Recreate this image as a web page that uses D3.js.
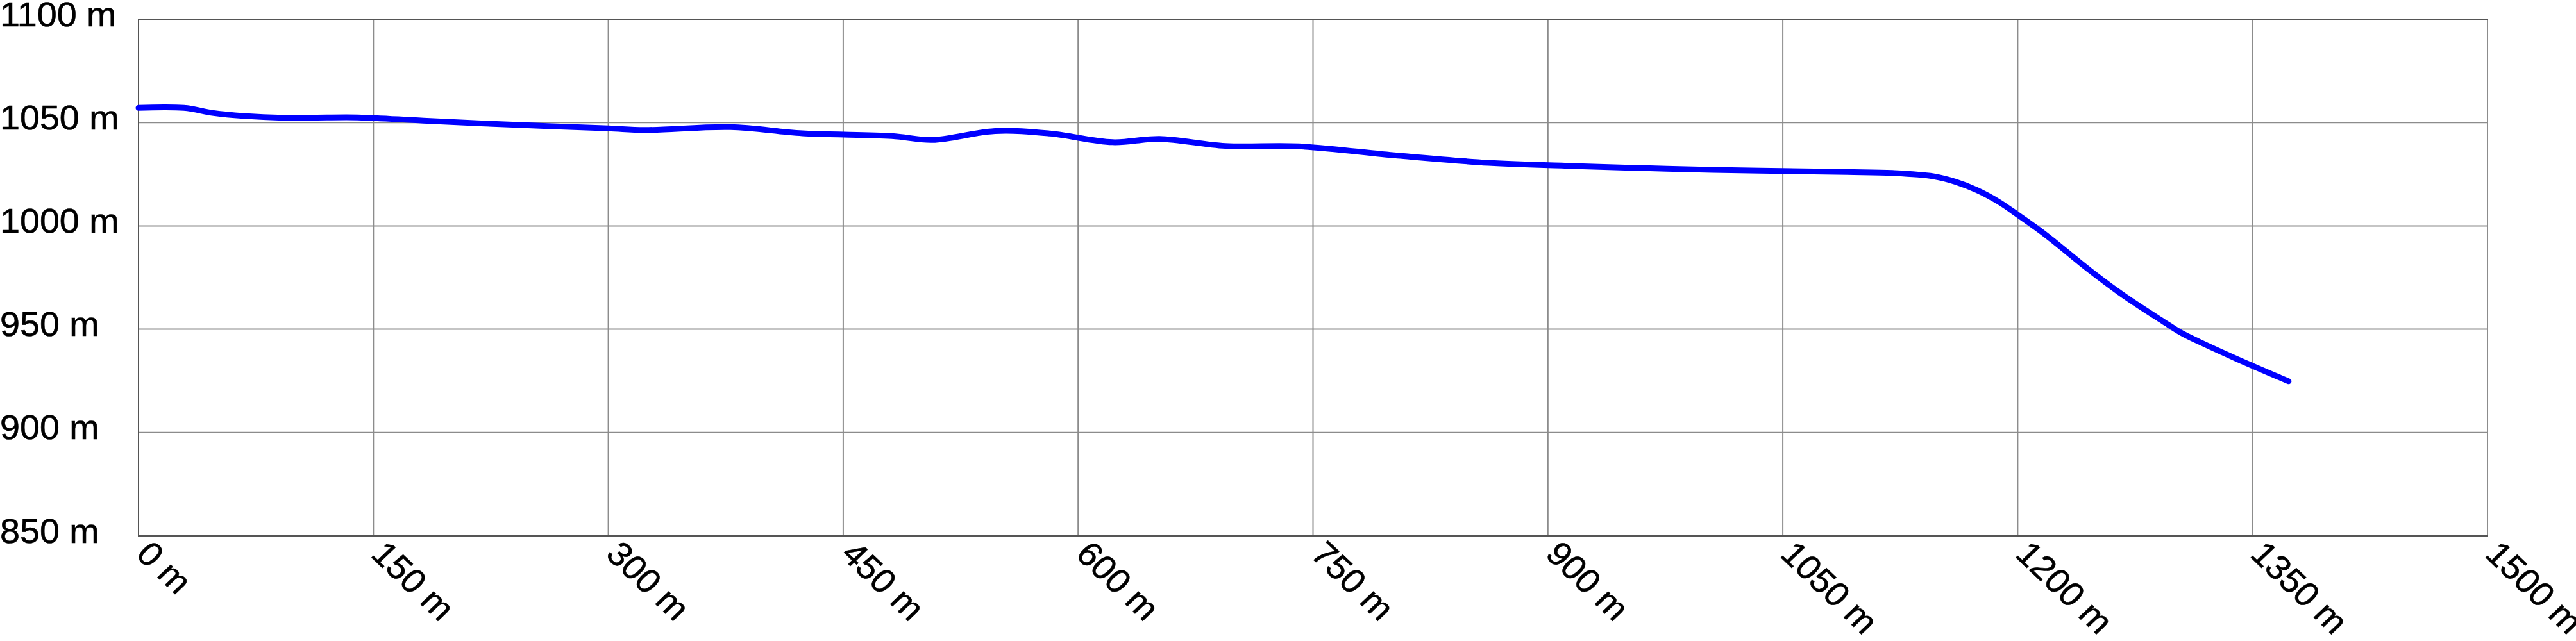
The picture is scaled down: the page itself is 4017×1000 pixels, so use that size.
<!DOCTYPE html>
<html>
<head>
<meta charset="utf-8">
<script src="https://cdn.jsdelivr.net/npm/d3@7"></script>
<style>
  html, body { margin: 0; padding: 0; background: #fff; }
  svg { display: block; }
</style>
</head>
<body>
<svg id="chart" width="4017" height="1000"></svg>
<script>
// Distance along the route (m)
const distances = [0, 29, 48, 67, 92, 140, 182, 244, 300, 323, 378, 424, 481, 507, 547, 582, 622, 652, 694, 741, 804, 862, 919, 1005, 1091, 1120, 1146, 1160, 1174, 1188, 1200, 1215, 1224, 1246, 1269, 1293, 1305, 1316, 1340, 1373];
// Elevation (m)
const elevations = [1057.1, 1057.1, 1054.6, 1053.2, 1052.3, 1052.5, 1050.9, 1048.8, 1047.2, 1046.4, 1047.8, 1044.8, 1043.5, 1041.6, 1045.9, 1044.7, 1040.5, 1042.1, 1038.7, 1038.5, 1034.0, 1030.5, 1028.9, 1027.1, 1026.1, 1025.6, 1024.0, 1021.4, 1017.3, 1011.6, 1005.4, 997.3, 992.0, 978.5, 965.6, 953.7, 948.0, 943.9, 935.6, 924.8];
// Tick values
const xTicks = [0, 150, 300, 450, 600, 750, 900, 1050, 1200, 1350, 1500];
const yTicks = [850, 900, 950, 1000, 1050, 1100];

const data = distances.map((d, i) => ({ d, e: elevations[i] }));

const plotLeft = 216, plotRight = 3879, plotTop = 30, plotBottom = 836;
const svg = d3.select("#chart");

const x = d3.scaleLinear().domain([0, 1500]).range([plotLeft, plotRight]);
const y = d3.scaleLinear().domain([850, 1100]).range([plotBottom, plotTop]);

const font = "'Liberation Sans', Arial, Helvetica, sans-serif";

// vertical gridlines
svg.append("g").selectAll("line").data(xTicks).join("line")
  .attr("x1", d => x(d)).attr("x2", d => x(d))
  .attr("y1", plotTop).attr("y2", plotBottom)
  .attr("stroke", "#8c8c8c").attr("stroke-width", 2);

// horizontal gridlines
svg.append("g").selectAll("line").data(yTicks).join("line")
  .attr("x1", plotLeft).attr("x2", plotRight)
  .attr("y1", d => y(d)).attr("y2", d => y(d))
  .attr("stroke", "#8c8c8c").attr("stroke-width", 2);

// border: left, top, bottom
svg.append("path")
  .attr("d", `M${plotRight},${plotTop}H${plotLeft}V${plotBottom}H${plotRight}`)
  .attr("fill", "none").attr("stroke", "#555").attr("stroke-width", 2);

// y labels
svg.append("g").selectAll("text").data(yTicks).join("text")
  .attr("transform", d => `translate(0,${y(d) + 10.5}) scale(1.05,1)`)
  .attr("font-family", font).attr("font-size", 53).attr("fill", "#000")
  .attr("stroke", "#000").attr("stroke-width", 0.6)
  .text(d => d + " m");

// x labels, rotated
svg.append("g").selectAll("text").data(xTicks).join("text")
  .attr("transform", d => `translate(${x(d) - 6},867) scale(1.05,1) rotate(45)`)
  .attr("font-family", font).attr("font-size", 53).attr("fill", "#000")
  .attr("stroke", "#000").attr("stroke-width", 0.6)
  .text(d => d + " m");

// elevation line
const line = d3.line().x(p => x(p.d)).y(p => y(p.e)).curve(d3.curveCatmullRom.alpha(0.5));
svg.append("path").datum(data)
  .attr("d", line)
  .attr("fill", "none").attr("stroke", "#0000ff").attr("stroke-width", 9)
  .attr("stroke-linecap", "round").attr("stroke-linejoin", "round");
</script>
</body>
</html>
